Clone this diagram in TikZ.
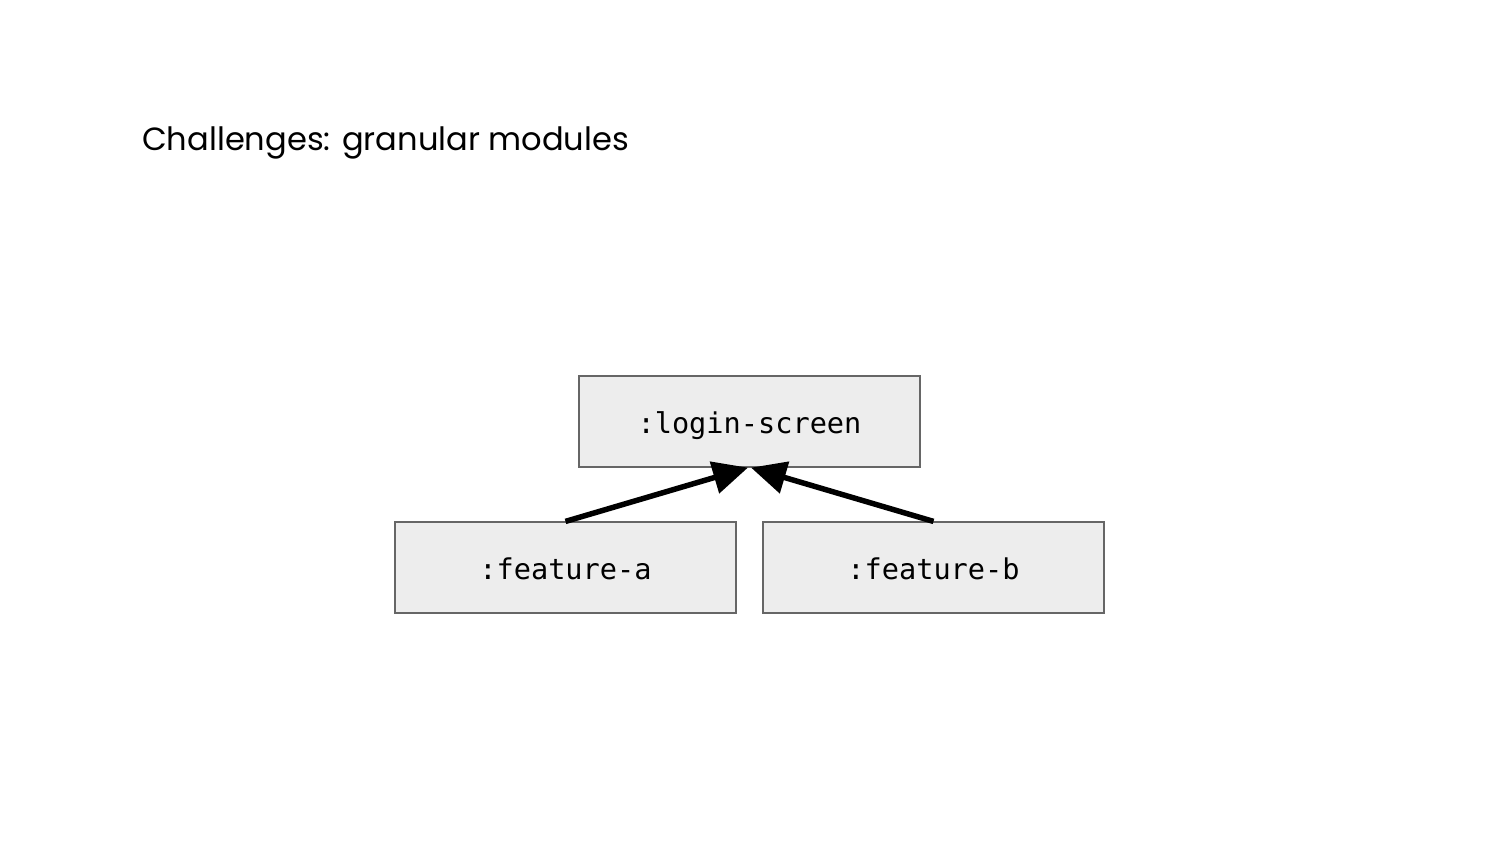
\documentclass[tikz,border=0pt]{standalone}
\usepackage{fontspec}
\setmainfont{Poppins}
\setmonofont{DejaVu Sans Mono}
\usetikzlibrary{arrows.meta}
\newcommand{\boxtext}[1]{\raisebox{-12pt}[0pt][0pt]{#1}}
\tikzset{
  modbox/.style={draw=black!60, line width=1.2pt, fill=black!7, minimum width=341pt, minimum height=91pt, inner sep=0pt, font=\fontsize{28.6}{32}\selectfont\ttfamily},
  dep/.style={line width=5.5pt, -{Triangle[length=35pt,width=32pt]}}
}
\begin{document}
\begin{tikzpicture}[x=1pt,y=-1pt]
\useasboundingbox (0,0) rectangle (1500,844);
\node[anchor=base west, inner sep=0pt, font=\fontsize{32.1}{36}\selectfont] (title) at (142,150) {Challenges: granular modules};
\node[modbox] (ls) at (749.5,421.5) {\boxtext{:login-screen}};
\node[modbox] (fa) at (565.5,567.5) {\boxtext{:feature-a}};
\node[modbox] (fb) at (933.5,567.5) {\boxtext{:feature-b}};
\draw[dep] (fa.north) -- ([xshift=-1.5pt]ls.south);
\draw[dep] (fb.north) -- ([xshift=1.5pt]ls.south);
\end{tikzpicture}
\end{document}
